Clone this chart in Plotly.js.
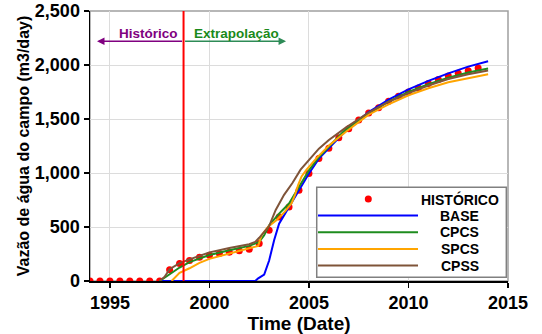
<!DOCTYPE html>
<html>
<head>
<meta charset="utf-8">
<script src="https://cdn.plot.ly/plotly-3.0.1.min.js"></script>
<style>html,body{margin:0;padding:0;background:#fff;}#chart{width:542px;height:334px;}</style>
</head>
<body>
<div id="chart"></div>
<script>
// Historical data (HISTÓRICO)
const histT = [1994.0,1994.5,1995.0,1995.5,1996.0,1996.5,1997.0,1997.5,1998.0,1998.5,1999.0,1999.5,2000.0,2000.5,2001.0,2001.5,2002.0,2002.5,2003.0,2003.5,2004.0,2004.5,2005.0,2005.5,2006.0,2006.5,2007.0,2007.5,2008.0,2008.5,2009.0,2009.5,2010.0,2010.5,2011.0,2011.5,2012.0,2012.5,2013.0,2013.5];
const histV = [0,0,0,0,0,0,0,0,105,162,190,220,238,255,267,280,294,348,470,593,685,840,995,1135,1230,1326,1410,1490,1556,1605,1664,1710,1750,1787,1828,1865,1898,1923,1946,1972];

// BASE
const baseT = [1997.5,2002.3,2002.45,2002.75,2003.0,2003.25,2003.5,2004.0,2004.5,2005.0,2005.5,2006.0,2006.5,2007.0,2008.0,2009.0,2010.0,2011.0,2012.0,2013.0,2014.0];
const baseV = [0,0,25,60,190,377,531,685,840,995,1133,1226,1320,1420,1565,1680,1775,1853,1922,1985,2035];

// CPCS
const cpcsT = [1997.5,1998.0,1998.5,1999.0,1999.5,2000.0,2001.0,2002.0,2002.5,2002.75,2003.0,2003.5,2004.0,2004.5,2005.0,2005.5,2006.0,2006.8,2008.0,2009.0,2010.0,2011.0,2012.0,2013.0,2014.0];
const cpcsV = [0,60,125,175,210,240,285,325,361,423,516,624,717,870,1025,1148,1241,1395,1550,1660,1750,1822,1882,1930,1967];

// SPCS
const spcsT = [1998.1,1998.5,1999.0,1999.5,2000.0,2001.0,2002.0,2002.45,2002.62,2002.95,2003.38,2003.79,2004.13,2004.3,2004.46,2004.63,2004.88,2005.39,2006.06,2006.89,2008.0,2009.0,2010.0,2011.0,2012.0,2013.0,2014.0];
const spcsV = [0,75,118,168,205,255,300,325,425,503,565,642,720,798,891,968,1031,1140,1263,1387,1540,1635,1720,1785,1840,1880,1915];

// CPSS
const cpssT = [1997.5,1997.75,1998.0,1998.5,1999.0,1999.5,2000.0,2001.0,2002.0,2002.3,2002.5,2003.0,2003.33,2003.75,2004.17,2004.58,2005.0,2005.5,2006.0,2006.85,2008.0,2009.0,2010.0,2011.0,2012.0,2013.0,2014.0];
const cpssV = [0,40,110,165,200,235,265,305,340,362,400,509,658,798,907,1031,1124,1225,1305,1420,1560,1660,1740,1810,1870,1915,1950];

const seriesNames = ['HISTÓRICO','BASE','CPCS','SPCS','CPSS'];
const seriesColors = ['#ff0000','#0000ff','#1e8c1e','#ffa500','#7f5439'];
const xTicks = [1995,2000,2005,2010,2015];
const yTicks = [0,500,1000,1500,2000,2500];
const yTickText = ['0','500','1,000','1,500','2,000','2,500'];
const divideYear = 1998.7;

const F = 'Liberation Sans, Arial, sans-serif';
const lw = 2;
const traces = [
  {x: histT, y: histV, name: seriesNames[0], mode: 'markers', type: 'scatter', marker: {color: seriesColors[0], size: 7}},
  {x: baseT, y: baseV, name: seriesNames[1], mode: 'lines', type: 'scatter', line: {color: seriesColors[1], width: lw}},
  {x: cpcsT, y: cpcsV, name: seriesNames[2], mode: 'lines', type: 'scatter', line: {color: seriesColors[2], width: lw}},
  {x: spcsT, y: spcsV, name: seriesNames[3], mode: 'lines', type: 'scatter', line: {color: seriesColors[3], width: lw}},
  {x: cpssT, y: cpssV, name: seriesNames[4], mode: 'lines', type: 'scatter', line: {color: seriesColors[4], width: lw}}
];

// Hand-built legend (paper coordinates)
const legX0 = 0.5424, legX1 = 0.996, legY0 = 0.0137, legY1 = 0.347;
const rowY = [0.3037, 0.2422, 0.1804, 0.1185, 0.0570];
const keyX0 = 0.5455, keyX1 = 0.7847, keyMid = 0.6658, textX = 0.885;

const shapes = [
  {type: 'rect', xref: 'paper', yref: 'paper', x0: 0, x1: 1, y0: 0, y1: 1, line: {color: '#a0a0a0', width: 1.5}, layer: 'below'},
  {type: 'line', xref: 'x', yref: 'paper', x0: divideYear, x1: divideYear, y0: 0, y1: 1, line: {color: '#ff0000', width: 2}},
  {type: 'rect', xref: 'paper', yref: 'paper', x0: legX0, x1: legX1, y0: legY0, y1: legY1, line: {color: '#808080', width: 1.5}, fillcolor: '#ffffff', layer: 'above'},
  {type: 'circle', xref: 'paper', yref: 'paper', xsizemode: 'pixel', ysizemode: 'pixel', xanchor: keyMid, yanchor: rowY[0], x0: -3.5, x1: 3.5, y0: -3.5, y1: 3.5, fillcolor: seriesColors[0], line: {width: 0}, layer: 'above'}
];
for (let i = 1; i < 5; i++) {
  shapes.push({type: 'line', xref: 'paper', yref: 'paper', x0: keyX0, x1: keyX1, y0: rowY[i], y1: rowY[i], line: {color: seriesColors[i], width: lw}, layer: 'above'});
}

const annotations = [
  {x: 1994.35, y: 2220, ax: divideYear, ay: 2220, axref: 'x', ayref: 'y', xref: 'x', yref: 'y', text: '', showarrow: true, arrowhead: 2, arrowsize: 1, arrowwidth: 1.5, arrowcolor: '#800080', standoff: 0, startstandoff: 0},
  {x: 2003.85, y: 2220, ax: divideYear, ay: 2220, axref: 'x', ayref: 'y', xref: 'x', yref: 'y', text: '', showarrow: true, arrowhead: 2, arrowsize: 1, arrowwidth: 1.5, arrowcolor: '#2e8b57', standoff: 0, startstandoff: 0},
  {x: 1998.5, y: 2295, xref: 'x', yref: 'y', text: 'Histórico', showarrow: false, xanchor: 'right', font: {family: F, size: 13.5, weight: 'bold', color: '#800080'}},
  {x: 1999.1, y: 2295, xref: 'x', yref: 'y', text: 'Extrapolação', showarrow: false, xanchor: 'left', font: {family: F, size: 13.5, weight: 'bold', color: '#1a8a1a'}}
];
for (let i = 0; i < 5; i++) {
  annotations.push({x: textX, y: rowY[i], xref: 'paper', yref: 'paper', text: seriesNames[i], showarrow: false, xanchor: 'center', yanchor: 'middle', font: {family: F, size: 14, weight: 'bold', color: '#000'}});
}

const layout = {
  width: 542, height: 334,
  margin: {l: 90, r: 34, t: 11, b: 53},
  paper_bgcolor: '#ffffff', plot_bgcolor: '#ffffff',
  font: {family: F, size: 17, color: '#000', weight: 'bold'},
  showlegend: false,
  xaxis: {
    range: [1994, 2015], tickvals: xTicks, ticktext: xTicks.map(String),
    showgrid: true, gridcolor: '#dcdcdc', gridwidth: 1, zeroline: false,
    showline: true, linecolor: '#000', linewidth: 1.5,
    ticks: 'outside', ticklen: 5, tickwidth: 1.5, tickcolor: '#000',
    tickfont: {family: F, size: 18, weight: 'bold'},
    title: {text: 'Time (Date)', font: {family: F, size: 19, weight: 'bold'}, standoff: 4}
  },
  yaxis: {
    range: [0, 2500], tickvals: yTicks, ticktext: yTickText,
    showgrid: true, gridcolor: '#dcdcdc', gridwidth: 1, zeroline: false,
    showline: true, linecolor: '#000', linewidth: 1.5,
    ticks: 'outside', ticklen: 5, tickwidth: 1.5, tickcolor: '#000',
    tickfont: {family: F, size: 18, weight: 'bold'},
    title: {text: 'Vazão de água do campo (m3/day)', font: {family: F, size: 16, weight: 'bold'}, standoff: 1}
  },
  shapes: shapes,
  annotations: annotations
};

Plotly.newPlot('chart', traces, layout, {displayModeBar: false, staticPlot: true});
</script>
</body>
</html>
